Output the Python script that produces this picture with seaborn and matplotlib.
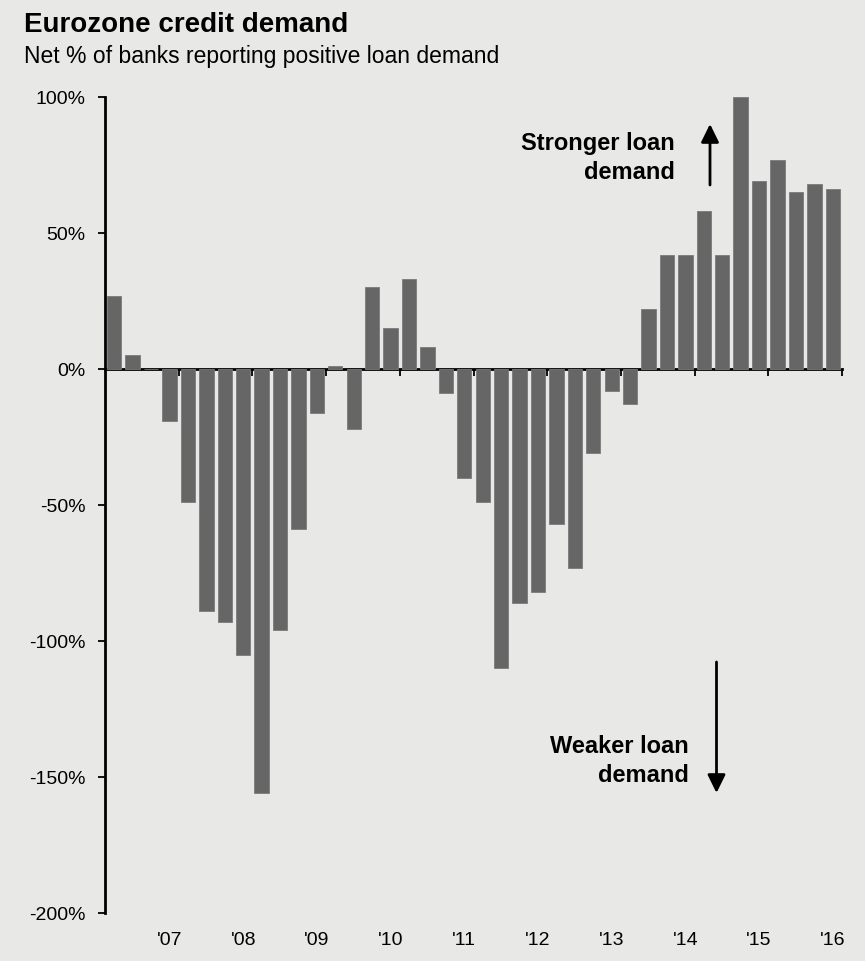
import matplotlib
matplotlib.use("Agg")
import matplotlib.pyplot as plt
import numpy as np
import pandas as pd
import seaborn as sns

# ---------------- data ----------------
quarters = [f"{q}Q{y:02d}" for y in range(6, 17) for q in range(1, 5)][1:41]  # 2Q06 .. 1Q16
values = [27, 5, 0, -19, -49, -89, -93, -105, -156, -96,
          -59, -16, 1, -22, 30, 15, 33, 8, -9, -40,
          -49, -110, -86, -82, -57, -73, -31, -8, -13, 22,
          42, 42, 58, 42, 100, 69, 77, 65, 68, 66]
year_labels = ["'07", "'08", "'09", "'10", "'11", "'12", "'13", "'14", "'15", "'16"]
year_label_quarters = ["1Q07", "1Q08", "1Q09", "1Q10", "1Q11", "1Q12", "1Q13", "1Q14", "1Q15", "1Q16"]
y_ticks = [100, 50, 0, -50, -100, -150, -200]

title = "Eurozone credit demand"
subtitle = "Net % of banks reporting positive loan demand"

# ---------------- style ----------------
bg = "#e8e8e6"
bar_color = "#666666"
sns.set_theme(style="white")
plt.rcParams["font.family"] = ["Liberation Sans", "DejaVu Sans"]

W, H = 865, 962
fig = plt.figure(figsize=(W / 100, H / 100), dpi=100, facecolor=bg)
ax = fig.add_axes([105 / W, 1 - 914 / H, (842 - 105) / W, (914 - 98) / H])
ax.set_facecolor(bg)

df = pd.DataFrame({"quarter": quarters, "value": values})
sns.barplot(data=df, x="quarter", y="value", order=quarters, color=bar_color,
            saturation=1, width=0.78, errorbar=None, ax=ax,
            edgecolor="#7a7a7a", linewidth=0.6)

ax.set_xlim(-0.5, len(quarters) - 0.5)
ax.set_ylim(-200, 100)
ax.set_xlabel("")
ax.set_ylabel("")

ax.set_yticks(y_ticks)
ax.set_yticklabels([f"{v}%" for v in y_ticks])
pos = [quarters.index(q) for q in year_label_quarters]
ax.set_xticks(pos)
ax.set_xticklabels(year_labels)
ax.tick_params(axis="x", length=0, pad=13, labelsize=14, labelcolor="black")
ax.tick_params(axis="y", length=5, width=1.3, direction="out", pad=9,
               labelsize=14, labelcolor="black", color="black", left=True)

for s in ["top", "right", "bottom"]:
    ax.spines[s].set_visible(False)
ax.spines["left"].set_linewidth(2)
ax.spines["left"].set_color("black")

# zero axis with year boundary ticks
ymin, ymax = ax.get_ylim()
sec = ax.secondary_xaxis((0 - ymin) / (ymax - ymin))
sec.set_alignment("bottom")
boundaries = [p + 0.5 for p in pos]
sec.set_xticks(boundaries)
sec.set_xticklabels([])
sec.tick_params(axis="x", length=5, width=1.3, direction="out", color="black")
sec.spines["bottom"].set_linewidth(2)
sec.spines["bottom"].set_color("black")

# titles
fig.text(24 / W, 1 - 31.5 / H, title, fontsize=20, fontweight="bold",
         ha="left", va="baseline", color="black")
fig.text(24 / W, 1 - 63.5 / H, subtitle, fontsize=16.5,
         ha="left", va="baseline", color="black")

# annotations
def ftext(x, y, s):
    fig.text(x / W, 1 - y / H, s, fontsize=17, fontweight="bold",
             ha="right", va="baseline", color="black")

ftext(675, 150, "Stronger loan")
ftext(675, 179, "demand")
ftext(689, 753, "Weaker loan")
ftext(689, 782, "demand")

def farrow(x, y0, y1):
    fig.add_artist(matplotlib.patches.FancyArrowPatch(
        (x / W, 1 - y0 / H), (x / W, 1 - y1 / H), transform=fig.transFigure,
        arrowstyle="-|>,head_length=0.55,head_width=0.27", mutation_scale=20,
        color="black", lw=2, shrinkA=0, shrinkB=0))

farrow(710, 186, 125)
farrow(716.5, 663, 794)

fig.savefig("out.png", dpi=100, facecolor=bg)
